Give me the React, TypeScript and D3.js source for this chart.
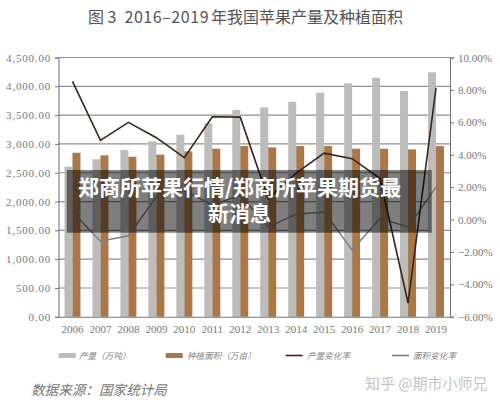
import React, { useEffect, useRef } from "react";
import * as d3 from "d3";

const years = ["2006", "2007", "2008", "2009", "2010", "2011", "2012", "2013", "2014", "2015", "2016", "2017", "2018", "2019"];
const output = [2604, 2733, 2894, 3045, 3160, 3358, 3588, 3635, 3733, 3889, 4052, 4149, 3918, 4243];
const area = [2847, 2802, 2778, 2813, 2871, 2917, 2963, 2940, 2963, 2963, 2917, 2917, 2905, 2963];
const outputRate = [8.53, 4.89, 6.0, 5.05, 3.82, 6.34, 6.32, 1.3, 2.87, 4.1, 3.76, 2.53, -5.15, 8.13];
const areaRate = [0.47, -1.33, -1.0, 1.4, 1.8, 0.9, 1.5, -0.45, 0.33, 0.47, -1.88, 0.08, -0.45, 2.0];
const leftTicks = [0, 500, 1000, 1500, 2000, 2500, 3000, 3500, 4000, 4500];
const rightTicks = [-6, -4, -2, 0, 2, 4, 6, 8, 10];
const overlayLines = ["郑商所苹果行情/郑商所苹果期货最", "新消息"];

const GRAY = "#bcbcbc";
const BROWN = "#a9784a";
const DARK = "#3a2418";
const MID = "#7f7f7f";
const CJK = "'Noto Sans CJK SC', sans-serif";
const SERIF = "'Liberation Serif', serif";

const App: React.FC = () => {
  const svgRef = useRef<SVGSVGElement | null>(null);

  useEffect(() => {
    if (!svgRef.current) return;
    const svg = d3.select(svgRef.current);
    svg.selectAll("*").remove();

    const left = 58.5, right = 450, top = 57.5, bottom = 316.8;
    const x = d3.scaleBand().domain(years).range([left, right]);
    const y = d3.scaleLinear().domain([0, 4500]).range([bottom, top]);
    const yRate = d3.scaleLinear().domain([-6, 10]).range([bottom, top]);
    const cx = (d: string) => x(d)! + x.bandwidth() / 2;

    svg.append("rect").attr("width", 500).attr("height", 404).attr("fill", "#fff");

    // title pieces sit apart in the original, digits a bit wider
    const title = svg.append("text")
      .attr("y", 22.5)
      .style("font-family", CJK).style("font-size", "16px").style("fill", "#555");
    title.append("tspan").attr("x", 88).text("图 3");
    title.append("tspan").attr("x", 124.5).style("letter-spacing", "0.55px").text("2016–2019");
    title.append("tspan").attr("x", 211).text("年我国苹果产量及种植面积");

    // grid
    svg.append("g").selectAll("line").data(leftTicks.slice(1)).enter().append("line")
      .attr("x1", left).attr("x2", right)
      .attr("y1", d => y(d)).attr("y2", d => y(d))
      .attr("stroke", "#8f8f8f").attr("stroke-width", 1.2);

    // bars
    svg.append("g").selectAll("rect").data(output).enter().append("rect")
      .attr("x", (_, i) => cx(years[i]) - 8)
      .attr("y", d => y(d))
      .attr("width", 8).attr("height", d => bottom - y(d))
      .attr("fill", GRAY);
    svg.append("g").selectAll("rect").data(area).enter().append("rect")
      .attr("x", (_, i) => cx(years[i]))
      .attr("y", d => y(d))
      .attr("width", 8).attr("height", d => bottom - y(d))
      .attr("fill", BROWN);

    // axes
    const leftAxis = d3.axisLeft(y).tickValues(leftTicks).tickSize(3.5).tickFormat(d3.format(",.2f") as any);
    const rightAxis = d3.axisRight(yRate).tickValues(rightTicks).tickSize(4).tickFormat(d => `${d3.format(".2f")(d as number).replace("-", "−")}%`);
    const bottomAxis = d3.axisBottom(x).tickSize(0);

    const gl = svg.append("g").attr("transform", `translate(${left},0)`).call(leftAxis);
    const gr = svg.append("g").attr("transform", `translate(${right},0)`).call(rightAxis);
    const gb = svg.append("g").attr("transform", `translate(0,${bottom})`).call(bottomAxis);

    [gl, gr, gb].forEach(g => {
      g.selectAll("path").attr("stroke", "#777").attr("stroke-width", 1.1);
      g.selectAll("line").attr("stroke", "#777");
      g.selectAll("text").style("font-family", SERIF).style("font-size", "11px").attr("fill", "#777");
    });
    gl.selectAll("text").attr("x", -7.5).style("letter-spacing", "0.8px");
    gr.selectAll("text").attr("x", 8);
    gb.selectAll("text").attr("y", 8).attr("dy", "0.71em");

    // lines
    const lineOf = d3.line<number>().x((_, i) => cx(years[i])).y(d => yRate(d));
    svg.append("path").attr("d", lineOf(areaRate)!)
      .attr("fill", "none").attr("stroke", MID).attr("stroke-width", 1.4);
    svg.append("path").attr("d", lineOf(outputRate)!)
      .attr("fill", "none").attr("stroke", DARK).attr("stroke-width", 1.6);

    // legend
    const legendY = 355.5;
    const legend = [
      { label: "产量（万吨）", sx: 58.7, tx: 79, color: GRAY, h: 5 },
      { label: "种植面积（万亩）", sx: 165.7, tx: 187, color: BROWN, h: 5 },
      { label: "产量变化率", sx: 285.7, tx: 307, color: DARK, h: 1.6 },
      { label: "面积变化率", sx: 392, tx: 413, color: MID, h: 1.6 },
    ];
    const lg = svg.append("g").selectAll("g").data(legend).enter().append("g");
    lg.append("rect")
      .attr("x", d => d.sx).attr("y", d => legendY - d.h / 2)
      .attr("width", 17).attr("height", d => d.h)
      .attr("fill", d => d.color);
    lg.append("text")
      .attr("x", d => d.tx).attr("y", legendY + 3)
      .style("font-family", CJK).style("font-size", "8.6px").style("font-style", "italic").style("fill", "#8a8a8a")
      .text(d => d.label);

    svg.append("text")
      .attr("x", 31).attr("y", 395)
      .style("font-family", CJK).style("font-size", "13.6px").style("font-style", "italic").style("fill", "#777")
      .text("数据来源：国家统计局");

    svg.append("text")
      .attr("x", 365).attr("y", 388.5)
      .style("font-family", CJK).style("font-size", "15px").style("fill", "#c4c4c4")
      .text("知乎 @期市小师兄");

    // banner on top of the chart
    svg.append("rect")
      .attr("x", 66.7).attr("y", 170).attr("width", 365).attr("height", 62.7)
      .attr("fill", "#000").attr("fill-opacity", 0.5);
    svg.append("g").selectAll("text").data(overlayLines).enter().append("text")
      .attr("x", 239.5).attr("y", (_, i) => 194.5 + i * 26)
      .attr("text-anchor", "middle")
      .style("font-family", CJK).style("font-size", "21px").style("font-weight", "700").style("fill", "#fff")
      .text(d => d);
  }, []);

  return <svg ref={svgRef} width={500} height={404} style={{ position: "absolute", left: 0, top: 0 }}></svg>;
};

export default App;
